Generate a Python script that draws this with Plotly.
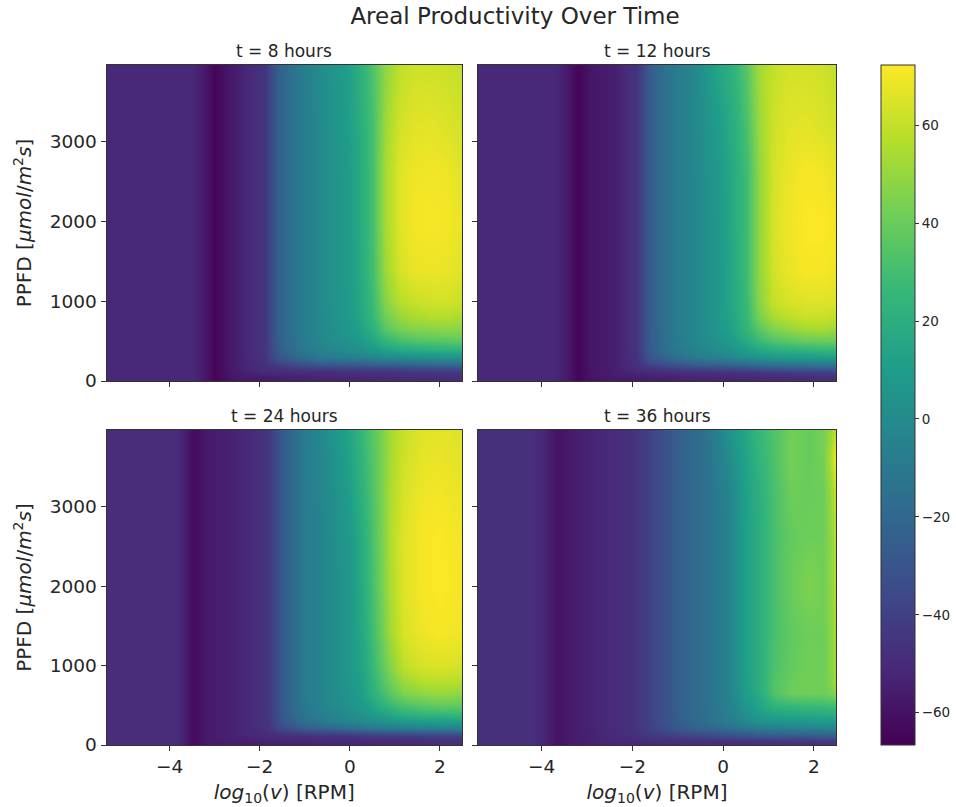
import plotly.graph_objects as go

W, H = 956, 807

ppfd = [0, 60, 110, 160, 220, 300, 400, 520, 650, 800, 1000, 1400, 2000, 2600, 3200, 3960]
ppfd_36 = [0, 60, 110, 160, 220, 300, 400, 520, 650, 800, 1000, 1400, 2000, 2600, 3200, 3600, 3960]

log_v_8 = [-5.4, -3.5, -3.3, -3.0, -2.7, -2.4, -1.9, -1.6, -1.1, -0.6, -0.1, 0.2, 0.5, 0.8, 1.1, 1.4, 1.8, 2.2, 2.49]
z_8 = [
    [-51, -51, -55, -65, -60, -58, -57, -56, -55, -54, -53, -53, -53, -52, -52, -52, -51, -50, -49],
    [-51, -51, -55, -65, -59, -56, -55, -54, -53, -52, -51, -51, -50, -50, -49, -49, -48, -48, -47],
    [-51, -51, -55, -65, -58, -54, -51, -50, -49, -48, -47, -47, -46, -46, -45, -45, -44, -43, -42],
    [-51, -51, -55, -65, -58, -53, -48, -46, -42, -40, -39, -38, -37, -37, -36, -35, -34, -33, -32],
    [-51, -51, -55, -65, -58, -53, -47, -38, -30, -25, -23, -22, -20, -19, -18, -17, -15, -14, -13],
    [-51, -51, -55, -65, -58, -53, -46, -30, -18, -10, -7, -5, -3, 0, 1, 2, 3, 4, 5],
    [-51, -51, -55, -65, -58, -53, -45, -27, -12, -4, 0, 3, 8, 14, 18, 20, 22, 23, 24],
    [-51, -51, -55, -65, -58, -53, -45, -26, -10, -1, 4, 8, 16, 26, 31, 34, 36, 37, 38],
    [-51, -51, -55, -65, -58, -53, -45, -25, -9, 0, 6, 12, 22, 36, 43, 46, 47, 48, 47],
    [-51, -51, -55, -65, -58, -53, -45, -25, -9, 0, 7, 14, 26, 42, 50, 54, 56, 56, 54],
    [-51, -51, -55, -65, -58, -53, -45, -25, -9, 1, 8, 15, 28, 47, 57, 61, 63, 63, 61],
    [-51, -51, -55, -65, -58, -53, -45, -25, -9, 1, 8, 16, 30, 52, 64, 68, 69, 68, 66],
    [-51, -51, -55, -65, -58, -53, -45, -25, -9, 1, 8, 17, 31, 54, 66, 70, 71, 70, 68],
    [-51, -51, -55, -65, -58, -53, -45, -25, -9, 1, 8, 17, 31, 54, 66, 69, 70, 69, 66],
    [-51, -51, -55, -65, -58, -53, -45, -25, -9, 1, 9, 18, 31, 52, 63, 66, 67, 65, 63],
    [-51, -51, -55, -65, -58, -53, -45, -25, -9, 2, 10, 20, 33, 49, 59, 62, 62, 61, 60],
]

log_v_12 = [-5.4, -3.75, -3.5, -3.2, -2.9, -2.4, -1.9, -1.6, -1.1, -0.6, -0.1, 0.2, 0.5, 0.8, 1.1, 1.4, 1.8, 2.2, 2.49]
z_12 = [
    [-51, -51, -55, -65, -60, -58, -57, -56, -55, -54, -53, -53, -53, -52, -52, -52, -51, -50, -49],
    [-51, -51, -55, -65, -59, -56, -55, -54, -53, -52, -51, -51, -50, -50, -49, -49, -48, -47, -46],
    [-51, -51, -55, -65, -58, -55, -51, -50, -48, -47, -46, -46, -45, -44, -43, -42, -41, -40, -39],
    [-51, -51, -55, -65, -58, -55, -48, -45, -40, -37, -35, -34, -32, -30, -28, -27, -26, -25, -24],
    [-51, -51, -55, -65, -58, -55, -47, -36, -28, -22, -20, -18, -15, -12, -10, -9, -8, -7, -6],
    [-51, -51, -55, -65, -58, -55, -46, -29, -17, -9, -5, -2, 2, 5, 7, 8, 9, 10, 11],
    [-51, -51, -55, -65, -58, -55, -45, -27, -12, -4, 1, 5, 11, 17, 21, 23, 25, 26, 27],
    [-51, -51, -55, -65, -58, -55, -45, -26, -11, -2, 4, 10, 18, 28, 34, 37, 40, 41, 41],
    [-51, -51, -55, -65, -58, -55, -45, -26, -10, -2, 6, 14, 24, 36, 45, 49, 53, 54, 51],
    [-51, -51, -55, -65, -58, -55, -45, -26, -10, -2, 7, 15, 26, 43, 54, 58, 61, 61, 59],
    [-51, -51, -55, -65, -58, -55, -45, -26, -10, -2, 7, 16, 27, 47, 60, 64, 66, 66, 65],
    [-51, -51, -55, -65, -58, -55, -45, -26, -10, -2, 7, 16, 28, 49, 63, 68, 71, 71, 69],
    [-51, -51, -55, -65, -58, -55, -45, -26, -10, -2, 7, 17, 28, 49, 64, 69, 72, 72, 70],
    [-51, -51, -55, -65, -58, -55, -45, -26, -10, -2, 8, 17, 28, 49, 63, 68, 71, 70, 67],
    [-51, -51, -55, -65, -58, -55, -45, -26, -10, -1, 10, 19, 31, 51, 62, 66, 67, 65, 63],
    [-51, -51, -55, -65, -58, -55, -45, -26, -10, -1, 15, 22, 35, 53, 60, 63, 63, 62, 59],
]

log_v_24 = [-5.4, -3.85, -3.7, -3.47, -3.2, -2.7, -2.2, -1.8, -1.5, -1.0, -0.5, 0.0, 0.3, 0.6, 0.9, 1.2, 1.6, 2.0, 2.49]
z_24 = [
    [-49, -49, -54, -63, -57, -56, -56, -55, -54, -54, -53, -53, -53, -52, -52, -52, -51, -50, -49],
    [-49, -49, -54, -63, -57, -55, -54, -53, -52, -51, -50, -50, -50, -49, -49, -48, -48, -47, -46],
    [-49, -49, -54, -63, -57, -54, -51, -50, -48, -47, -46, -45, -44, -43, -42, -41, -40, -39, -38],
    [-49, -49, -54, -63, -57, -54, -51, -48, -42, -38, -35, -33, -31, -29, -28, -27, -26, -25, -24],
    [-49, -49, -54, -63, -57, -54, -50, -46, -34, -26, -21, -17, -14, -11, -9, -8, -6, -5, -4],
    [-49, -49, -54, -63, -57, -54, -50, -45, -29, -15, -8, -3, 0, 3, 6, 8, 10, 11, 12],
    [-49, -49, -54, -63, -57, -54, -50, -44, -28, -12, -4, 1, 6, 11, 18, 23, 26, 27, 28],
    [-49, -49, -54, -63, -57, -54, -50, -44, -27, -10, -2, 4, 10, 19, 28, 34, 38, 40, 39],
    [-49, -49, -54, -63, -57, -54, -50, -44, -27, -9, -1, 5, 13, 25, 37, 45, 49, 51, 49],
    [-49, -49, -54, -63, -57, -54, -50, -44, -27, -9, -1, 6, 14, 28, 42, 52, 57, 58, 57],
    [-49, -49, -54, -63, -57, -54, -50, -44, -27, -9, -1, 7, 16, 31, 47, 59, 64, 65, 64],
    [-49, -49, -54, -63, -57, -54, -50, -44, -27, -9, -1, 7, 18, 34, 53, 64, 69, 71, 69],
    [-49, -49, -54, -63, -57, -54, -50, -44, -27, -9, -1, 7, 20, 36, 55, 66, 71, 72, 71],
    [-49, -49, -54, -63, -57, -54, -50, -44, -27, -9, -1, 8, 21, 37, 56, 66, 71, 72, 70],
    [-49, -49, -54, -63, -57, -54, -50, -44, -27, -9, 0, 11, 24, 38, 55, 64, 69, 70, 68],
    [-49, -49, -54, -63, -57, -54, -50, -44, -27, -9, 2, 15, 28, 39, 53, 61, 66, 67, 65],
]

log_v_36 = [-5.4, -4.2, -3.95, -3.66, -3.3, -2.6, -2.0, -1.6, -1.0, -0.4, 0.1, 0.5, 0.8, 1.1, 1.5, 1.9, 2.2, 2.35, 2.49]
z_36 = [
    [-48, -48, -52, -60, -56, -53, -52, -51, -50, -50, -50, -50, -50, -49, -49, -49, -48, -48, -48],
    [-48, -48, -52, -60, -56, -52, -50, -48, -47, -46, -45, -44, -43, -43, -42, -42, -41, -41, -40],
    [-48, -48, -52, -60, -56, -52, -48, -44, -40, -37, -34, -32, -30, -29, -28, -28, -27, -26, -25],
    [-48, -48, -52, -60, -56, -51, -47, -42, -34, -30, -26, -23, -20, -19, -18, -17, -16, -15, -14],
    [-48, -48, -52, -60, -56, -51, -47, -40, -28, -22, -16, -11, -8, -7, -6, -5, -4, -3, -2],
    [-48, -48, -52, -60, -56, -51, -47, -39, -26, -17, -9, -2, 4, 6, 7, 8, 8, 9, 10],
    [-48, -48, -52, -60, -56, -51, -47, -39, -25, -16, -7, 3, 11, 15, 17, 18, 19, 20, 21],
    [-48, -48, -52, -60, -56, -51, -47, -39, -25, -16, -6, 7, 14, 25, 28, 29, 30, 31, 32],
    [-48, -48, -52, -60, -56, -51, -47, -39, -25, -16, -5, 10, 19, 33, 41, 42, 41, 44, 47],
    [-48, -48, -52, -60, -56, -51, -47, -39, -25, -16, -5, 11, 20, 33, 40, 42, 41, 46, 52],
    [-48, -48, -52, -60, -56, -51, -47, -39, -25, -16, -5, 12, 20, 32, 39, 42, 41, 47, 53],
    [-48, -48, -52, -60, -56, -51, -47, -39, -25, -16, -5, 12, 20, 31, 38, 41, 41, 47, 54],
    [-48, -48, -52, -60, -56, -51, -47, -39, -25, -16, -5, 12, 20, 31, 40, 45, 42, 48, 55],
    [-48, -48, -52, -60, -56, -51, -47, -39, -25, -16, -5, 12, 20, 31, 39, 41, 41, 48, 56],
    [-48, -48, -52, -60, -56, -51, -47, -39, -25, -16, -4, 12, 21, 31, 41, 40, 41, 50, 60],
    [-48, -48, -52, -60, -56, -51, -47, -39, -25, -15, 0, 14, 24, 32, 43, 39, 43, 54, 70],
    [-48, -48, -52, -60, -56, -51, -47, -39, -25, -15, 3, 16, 26, 33, 42, 39, 43, 50, 58],
]

panel_titles = ["t = 8 hours", "t = 12 hours", "t = 24 hours", "t = 36 hours"]
main_title = "Areal Productivity Over Time"
x_title = "<i>log</i><sub>10</sub>(<i>v</i>) [RPM]"
y_title = "PPFD [<i>μmol</i>/<i>m</i><sup>2</sup><i>s</i>]"
x_ticks = [-4, -2, 0, 2]
x_tick_text = ["−4", "−2", "0", "2"]
y_ticks = [0, 1000, 2000, 3000]
cb_ticks = [-60, -40, -20, 0, 20, 40, 60]
cb_tick_text = ["−60", "−40", "−20", "0", "20", "40", "60"]
z_min, z_max = -66.6, 72.3
x_range = [-5.4, 2.49]
y_range = [0, 3965]

FONT = "DejaVu Sans"
INK = "#262626"
boxes = [(106.5, 462, 65, 381), (478, 836, 65, 381), (106.5, 462, 430, 745), (478, 836, 430, 745)]
xs = [log_v_8, log_v_12, log_v_24, log_v_36]
ys = [ppfd, ppfd, ppfd, ppfd_36]
zs = [z_8, z_12, z_24, z_36]

fig = go.Figure()
layout = {}
for i, (box, x, y, z) in enumerate(zip(boxes, xs, ys, zs)):
    n = "" if i == 0 else str(i + 1)
    left, right, top, bottom = box
    fig.add_trace(go.Heatmap(
        x=x, y=y, z=z, xaxis="x" + n, yaxis="y" + n,
        colorscale="Viridis", zmin=z_min, zmax=z_max, zsmooth="best",
        showscale=(i == 0),
        colorbar=dict(
            x=881 / W, xanchor="left", xref="paper", thickness=34, thicknessmode="pixels",
            y=1 - 745 / H, yanchor="bottom", yref="paper", len=680 / H, lenmode="fraction",
            tickvals=cb_ticks, ticktext=cb_tick_text, ticks="outside", ticklen=4, tickwidth=1,
            tickcolor="#333333", outlinecolor="#333333", outlinewidth=1, ypad=0, xpad=0,
            tickfont=dict(family=FONT, size=13.5, color=INK),
        ),
    ))
    bottom_row = i >= 2
    left_col = i % 2 == 0
    xaxis = dict(
        automargin=False,
        domain=[left / W, right / W], range=x_range, anchor="y" + n,
        tickvals=x_ticks, showticklabels=bottom_row, ticks="outside", ticklen=5, tickwidth=1,
        tickcolor="#333333", showline=True, mirror=True, linecolor="#333333", linewidth=1,
        showgrid=False, zeroline=False,
        tickfont=dict(family=FONT, size=18.5, color=INK),
    )
    if bottom_row:
        xaxis["ticktext"] = x_tick_text
        xaxis["title"] = dict(text=x_title, font=dict(family=FONT, size=20, color=INK), standoff=8)
    yaxis = dict(
        automargin=False,
        domain=[1 - bottom / H, 1 - top / H], range=y_range, anchor="x" + n,
        tickvals=y_ticks, showticklabels=left_col, tickformat="d",
        ticks="outside", ticklen=5, tickwidth=1, tickcolor="#333333",
        showline=True, mirror=True, linecolor="#333333", linewidth=1, showgrid=False, zeroline=False,
        tickfont=dict(family=FONT, size=18.5, color=INK),
    )
    if left_col:
        yaxis["title"] = dict(text=y_title, font=dict(family=FONT, size=20, color=INK), standoff=12)
    layout["xaxis" + n] = xaxis
    layout["yaxis" + n] = yaxis

annotations = [
    dict(text=t, x=(b[0] + b[1]) / 2 / W, y=1 - (b[2] - 2) / H, xref="paper", yref="paper",
         xanchor="center", yanchor="bottom", showarrow=False,
         font=dict(family=FONT, size=17, color=INK))
    for t, b in zip(panel_titles, boxes)
]
fig.update_layout(
    width=W, height=H, autosize=False, margin=dict(l=0, r=0, t=0, b=0),
    paper_bgcolor="white", plot_bgcolor="white", showlegend=False,
    title=dict(text=main_title, x=515 / W, xanchor="center", y=1 - 16 / H, yanchor="middle",
               font=dict(family=FONT, size=23, color=INK)),
    annotations=annotations, **layout,
)
fig.write_html("out.html", config={"displayModeBar": False},
               post_script="document.body.style.margin='0';")
